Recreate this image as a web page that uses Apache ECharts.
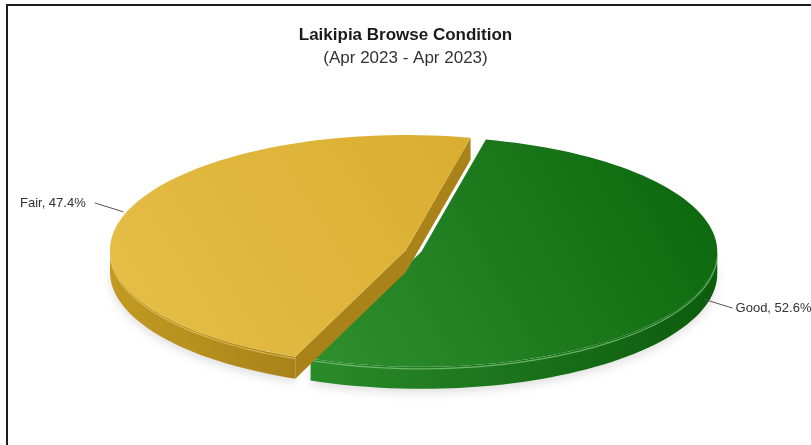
<!DOCTYPE html>
<html>
<head>
<meta charset="utf-8">
<title>Laikipia Browse Condition</title>
<script src="https://cdn.jsdelivr.net/npm/echarts@6/dist/echarts.min.js"></script>
<style>
  html, body { margin: 0; padding: 0; background: #fff; overflow: hidden; }
  #chart { position: absolute; left: 0; top: 0; width: 811px; height: 445px; }
  /* the screenshot frame: only top and left edges are visible */
  #frame {
    position: absolute; left: 6px; top: 4px; width: 900px; height: 500px;
    border-top: 2px solid #1c1c1c; border-left: 2px solid #1c1c1c;
    pointer-events: none;
  }
</style>
</head>
<body>
<div id="chart"></div>
<div id="frame"></div>
<script>
// data
var categories = ['Good', 'Fair'];
var values = [52.6, 47.4];

// look of each slice (top face, side wall)
var sliceStyle = {
  Good: { top: ['#2f902f', '#0a650a'], wall: ['#2a8a2a', '#0c5c0c'], rim: 'rgba(140,210,140,0.7)' },
  Fair: { top: ['#e6bf48', '#d9ad30'], wall: ['#c29a22', '#a9831a'], rim: 'rgba(250,225,140,0.5)' }
};
var explode = { Good: 16, Fair: 0 };

// pie geometry
var pie = { cx: 406, cy: 250, rx: 296, ry: 115, depth: 22, startAngle: 12.6 };

function rad(a) { return a * Math.PI / 180; }

var total = values.reduce(function (s, v) { return s + v; }, 0);

function renderSlice(params, api) {
  var i = params.dataIndex;
  var name = categories[i];
  var st = sliceStyle[name];
  var before = 0;
  for (var j = 0; j < i; j++) before += values[j];
  var a0 = pie.startAngle + before / total * 360;
  var a1 = a0 + api.value(0) / total * 360;
  var mid = (a0 + a1) / 2;

  var off = explode[name];
  var cx = pie.cx + off * Math.sin(rad(mid));
  var cy = pie.cy - off * Math.cos(rad(mid)) * pie.ry / pie.rx;

  function pt(a, dz) {
    return [cx + pie.rx * Math.sin(rad(a)), cy - pie.ry * Math.cos(rad(a)) + (dz || 0)];
  }
  function arc(from, to, dz) {
    var pts = [];
    var n = Math.max(2, Math.ceil(Math.abs(to - from) / 2));
    for (var k = 0; k <= n; k++) pts.push(pt(from + (to - from) * k / n, dz));
    return pts;
  }

  var children = [];
  var d = pie.depth;

  // outer wall: only the front half (90..270 deg) is seen
  [[90, 270], [450, 630]].forEach(function (r) {
    var s = Math.max(a0, r[0]), e = Math.min(a1, r[1]);
    if (e <= s) return;
    var topArc = arc(s, e, 0);
    var botArc = arc(e, s, d);
    children.push({
      type: 'polygon',
      shape: { points: topArc.concat(botArc) },
      style: {
        fill: { type: 'linear', x: 0, y: 0, x2: 1, y2: 0, colorStops: [
          { offset: 0, color: st.wall[0] }, { offset: 1, color: st.wall[1] }] },
        shadowBlur: 10, shadowColor: 'rgba(0,0,0,0.12)', shadowOffsetY: 4
      }
    });
    children.push({
      type: 'polyline',
      shape: { points: arc(s, e, 2) },
      style: { stroke: st.rim, lineWidth: 1.2, fill: null }
    });
  });

  // radial walls that face the viewer
  function radialWall(a) {
    var p = pt(a, 0);
    return {
      type: 'polygon',
      shape: { points: [[cx, cy], p, [p[0], p[1] + d], [cx, cy + d]] },
      style: { fill: st.wall[1] }
    };
  }
  if (Math.sin(rad(a0)) < 0) children.push(radialWall(a0));
  if (Math.sin(rad(a1)) > 0) children.push(radialWall(a1));

  // top face
  var topPts = [[cx, cy]].concat(arc(a0, a1, 0));
  children.push({
    type: 'polygon',
    shape: { points: topPts },
    style: {
      fill: { type: 'linear', x: 0, y: 1, x2: 1, y2: 0, colorStops: [
        { offset: 0, color: st.top[0] }, { offset: 1, color: st.top[1] }] }
    }
  });

  // data label with connector
  var sx = Math.sin(rad(mid)), sy = -Math.cos(rad(mid));
  var anchor = pt(mid, sy > 0 ? d * 0.6 : -4);
  var lineEnd = [anchor[0] + sx * 30, anchor[1] + sy * 30];
  children.push({
    type: 'polyline',
    shape: { points: [anchor, lineEnd] },
    style: { stroke: '#555', lineWidth: 1, fill: null }
  });
  children.push({
    type: 'text',
    style: {
      text: name + ', ' + api.value(0).toFixed(1) + '%',
      x: lineEnd[0] + (sx > 0 ? 3 : -9),
      y: lineEnd[1],
      align: sx > 0 ? 'left' : 'right',
      verticalAlign: 'middle',
      fill: '#333',
      font: '13px "Liberation Sans", Arial, sans-serif'
    }
  });

  return { type: 'group', children: children };
}

var chart = echarts.init(document.getElementById('chart'));
chart.setOption({
  backgroundColor: '#fff',
  animation: false,
  title: {
    text: 'Laikipia Browse Condition',
    subtext: '(Apr 2023 - Apr 2023)',
    left: 'center',
    top: 22,
    itemGap: 6,
    textStyle: { fontFamily: 'Liberation Sans', fontSize: 17, fontWeight: 'bold', color: '#1a1a1a' },
    subtextStyle: { fontFamily: 'Liberation Sans', fontSize: 17, color: '#333' }
  },
  series: [{
    type: 'custom',
    coordinateSystem: 'none',
    renderItem: renderSlice,
    data: values.map(function (v, i) { return [v, i]; })
  }]
});
</script>
</body>
</html>
